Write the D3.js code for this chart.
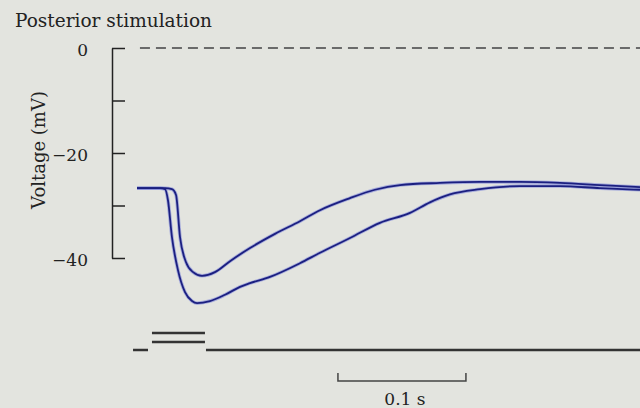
<!DOCTYPE html>
<html>
<head>
<meta charset="utf-8">
<script src="https://cdn.jsdelivr.net/npm/d3@7"></script>
<style>
  body { margin: 0; background: #e3e4df; }
  svg { display: block; }
  text { font-family: "DejaVu Serif", serif; fill: #222; }
</style>
</head>
<body>
<svg id="chart" width="640" height="408"></svg>
<script>
// time in ms, voltage in mV
var upperT = [0, 21.9, 27.3, 30.5, 33.6, 38.3, 43.8, 50.8, 60.9, 72.7, 88.3, 107.8, 127.3, 143, 166.4, 185.9, 205.5, 236.7, 268, 299.2, 330.5, 361.7, 393];
var upperV = [-26.7, -26.7, -26.9, -28, -36, -40.8, -42.7, -43.4, -42.7, -40.6, -38.1, -35.4, -33, -30.9, -28.6, -27, -26.1, -25.7, -25.5, -25.5, -25.7, -26.1, -26.5];
var lowerT = [0, 18, 21.9, 24.2, 27.3, 32, 37.5, 43, 46.9, 57, 68.8, 80.5, 88.3, 103.9, 127.3, 143, 166.4, 189.8, 213.3, 228.9, 244.5, 268, 299.2, 330.5, 361.7, 393];
var lowerV = [-26.7, -26.7, -26.9, -29, -36, -42.3, -46.5, -48.2, -48.6, -48.2, -47, -45.5, -44.8, -43.6, -41, -39, -36.2, -33.3, -31.4, -29.4, -27.9, -26.9, -26.3, -26.3, -26.7, -27];
var yTicks = [0, -10, -20, -30, -40];
var yLabels = [0, -20, -40];
// stimulus marker: baseline pieces and two pulses (start, end in ms)
var stimBase = [[-3.1, 8.6], [53.9, 395]];
var stimPulses = [[11.7, 53.1], [11.7, 53.1]];
var scaleBar = [157, 257];

var svg = d3.select("#chart");

var x = d3.scaleLinear().domain([0, 393]).range([137, 640]);
var y = d3.scaleLinear().domain([0, -40]).range([48, 258]);

svg.append("text")
  .attr("x", 15)
  .attr("y", 27)
  .style("font-size", "18.5px")
  .text("Posterior stimulation");

// y axis
var yAxis = d3.axisLeft(y)
  .tickValues(yTicks)
  .tickSizeInner(-13)
  .tickSizeOuter(0)
  .tickPadding(24)
  .tickFormat(function(d) {
    if (yLabels.indexOf(d) < 0) return "";
    return d < 0 ? "\u2212" + Math.abs(d) : d;
  });

var ga = svg.append("g")
  .attr("transform", "translate(112,0)")
  .call(yAxis);
ga.select(".domain").attr("stroke", "#222").attr("stroke-width", 1.5);
ga.selectAll(".tick line").attr("stroke", "#222").attr("stroke-width", 1.5);
ga.selectAll(".tick text")
  .attr("dy", "0.45em")
  .style("font-family", "DejaVu Serif, serif")
  .style("font-size", "17px")
  .attr("fill", "#333");

svg.append("text")
  .attr("transform", "translate(45,150) rotate(-90)")
  .attr("text-anchor", "middle")
  .style("font-size", "18px")
  .text("Voltage (mV)");

// zero reference
svg.append("line")
  .attr("x1", x(2.3))
  .attr("x2", 640)
  .attr("y1", y(0))
  .attr("y2", y(0))
  .attr("stroke", "#6a6a6a")
  .attr("stroke-width", 2)
  .attr("stroke-dasharray", "10,6");

var line = d3.line()
  .x(function(d) { return x(d[0]); })
  .y(function(d) { return y(d[1]); })
  .curve(d3.curveMonotoneX);

var traces = [d3.zip(upperT, upperV), d3.zip(lowerT, lowerV)];

svg.selectAll("path.halo")
  .data(traces)
  .enter()
  .append("path")
  .attr("class", "halo")
  .attr("d", line)
  .attr("fill", "none")
  .attr("stroke", "#7d86d8")
  .attr("stroke-opacity", 0.6)
  .attr("stroke-width", 3.5);

svg.selectAll("path.trace")
  .data(traces)
  .enter()
  .append("path")
  .attr("class", "trace")
  .attr("d", line)
  .attr("fill", "none")
  .attr("stroke", "#1b1f80")
  .attr("stroke-width", 1.8);

// stimulus marker
var stimY = 350;
svg.selectAll("line.base")
  .data(stimBase)
  .enter()
  .append("line")
  .attr("class", "base")
  .attr("x1", function(d) { return x(d[0]); })
  .attr("x2", function(d) { return x(d[1]); })
  .attr("y1", stimY)
  .attr("y2", stimY)
  .attr("stroke", "#333")
  .attr("stroke-width", 2.5);

svg.selectAll("line.pulse")
  .data(stimPulses)
  .enter()
  .append("line")
  .attr("class", "pulse")
  .attr("x1", function(d) { return x(d[0]); })
  .attr("x2", function(d) { return x(d[1]); })
  .attr("y1", function(d, i) { return 333 + i * 9; })
  .attr("y2", function(d, i) { return 333 + i * 9; })
  .attr("stroke", "#333")
  .attr("stroke-width", 2.5);

// time scale bar
svg.append("path")
  .attr("d", "M" + x(scaleBar[0]) + ",373V381H" + x(scaleBar[1]) + "V373")
  .attr("fill", "none")
  .attr("stroke", "#444")
  .attr("stroke-width", 1.5);

svg.append("text")
  .attr("x", (x(scaleBar[0]) + x(scaleBar[1])) / 2 + 3)
  .attr("y", 405)
  .attr("text-anchor", "middle")
  .style("font-size", "17px")
  .text("0.1 s");
</script>
</body>
</html>
